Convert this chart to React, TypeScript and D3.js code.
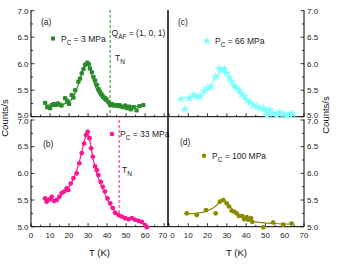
import React from 'react';
import * as d3 from 'd3';

// panel (a) Pc = 3 MPa
const tA = [7.4, 8.5, 10, 11, 12, 13, 14, 15, 16, 17.9, 19, 20, 21.4, 22.3, 23.2, 24.9, 25.8, 26.7, 27.6, 28.4, 29.6, 30.4, 31, 32, 32.8, 33.7, 34.6, 35.5, 36.3, 37.2, 38, 39, 39.8, 40.7, 41.6, 42.5, 43.5, 44.5, 45.5, 46.5, 47.5, 48.5, 49.5, 50.5, 51.5, 52.5, 54, 55.5, 57, 59];
const vA = [5.26, 5.18, 5.16, 5.22, 5.24, 5.22, 5.25, 5.23, 5.21, 5.35, 5.3, 5.24, 5.41, 5.36, 5.5, 5.66, 5.72, 5.82, 5.9, 5.98, 6.02, 5.99, 5.91, 5.84, 5.75, 5.68, 5.6, 5.52, 5.47, 5.42, 5.38, 5.35, 5.32, 5.27, 5.22, 5.24, 5.21, 5.22, 5.2, 5.22, 5.19, 5.18, 5.21, 5.16, 5.19, 5.14, 5.18, 5.12, 5.2, 5.22];
const fitTA = [8, 14, 19, 22, 25, 27, 29, 31, 33, 35, 37, 40, 45, 52, 58];
const fitVA = [5.22, 5.22, 5.26, 5.36, 5.62, 5.85, 6.0, 5.9, 5.66, 5.47, 5.36, 5.27, 5.22, 5.2, 5.19];

// panel (b) Pc = 33 MPa
const tB = [7.4, 8.2, 9.6, 10.9, 12.1, 13.5, 14.9, 16.1, 17.5, 18.8, 19.6, 20.9, 22.3, 24, 25.4, 26.7, 27.9, 28.9, 29.8, 30.7, 31.6, 32.5, 33.7, 34.6, 35.4, 36.7, 37.7, 38.9, 40.2, 41.6, 43, 44.2, 46, 47.7, 49.5, 51.2, 53, 54.7, 56.5, 58.3, 60, 60.9];
const vB = [5.53, 5.47, 5.51, 5.56, 5.48, 5.5, 5.56, 5.63, 5.66, 5.72, 5.69, 5.81, 5.91, 6.0, 6.19, 6.38, 6.56, 6.72, 6.78, 6.66, 6.47, 6.31, 6.13, 6.06, 5.97, 5.84, 5.75, 5.66, 5.53, 5.44, 5.35, 5.26, 5.22, 5.19, 5.16, 5.14, 5.16, 5.13, 5.11, 5.09, 5.03, 4.99];
const fitTB = [7, 12, 16, 20, 23, 26, 28, 29.5, 31, 32.5, 34, 36, 38, 40, 42, 44, 47, 52, 58, 61];
const fitVB = [5.52, 5.5, 5.6, 5.75, 5.95, 6.3, 6.6, 6.76, 6.6, 6.3, 6.07, 5.85, 5.68, 5.52, 5.39, 5.29, 5.2, 5.15, 5.08, 5.0];

// panel (c) Pc = 66 MPa
const tC = [6.2, 8.3, 10.4, 12.6, 14.4, 16.1, 18.3, 20, 21.8, 24.2, 26.1, 27.3, 28.7, 29.9, 31.2, 32.5, 33.8, 35.1, 36.3, 37.7, 39, 40.3, 42, 43.7, 45.4, 47.2, 48.9, 50.6, 50.8, 52.3, 54, 55.8, 57.5, 59.2, 61, 62.7, 64.1];
const vC = [5.33, 5.14, 5.35, 5.41, 5.38, 5.38, 5.48, 5.54, 5.57, 5.75, 5.91, 5.88, 5.9, 5.82, 5.74, 5.66, 5.58, 5.54, 5.5, 5.42, 5.38, 5.31, 5.27, 5.22, 5.19, 5.16, 5.16, 5.09, 5.03, 5.13, 5.06, 5.03, 5.08, 5.05, 5.02, 5.05, 5.06];
const fitTC = [6, 10, 16, 20, 24, 27, 28.5, 30, 33, 36, 40, 44, 50, 56, 64];
const fitVC = [5.35, 5.37, 5.42, 5.53, 5.72, 5.88, 5.9, 5.82, 5.62, 5.47, 5.33, 5.22, 5.12, 5.06, 5.04];

// panel (d) Pc = 100 MPa
const tD = [9.2, 14.4, 19.2, 24.2, 26.4, 28.1, 29.9, 31.1, 32.5, 33.8, 35.1, 36.3, 38, 39, 40.3, 41.1, 42.5, 43.2, 48.9, 54, 59.2, 63.6];
const vD = [5.25, 5.22, 5.31, 5.25, 5.47, 5.5, 5.44, 5.38, 5.3, 5.28, 5.25, 5.2, 5.2, 5.14, 5.18, 5.13, 5.16, 5.09, 4.99, 5.08, 5.04, 5.06];
const fitTD = [9, 14, 20, 24, 27, 28.5, 31, 35, 40, 45, 55, 64];
const fitVD = [5.24, 5.25, 5.3, 5.38, 5.48, 5.5, 5.4, 5.25, 5.14, 5.09, 5.06, 5.05];

const tnA = 41.6;
const tnB = 46.3;
const xTicks = [0, 10, 20, 30, 40, 50, 60, 70];
const yTicks = [5.0, 5.5, 6.0, 6.5, 7.0];

const FONT = 'Arial, "Liberation Sans", sans-serif';

type Panel = {
  id: string; t: number[]; v: number[]; ft: number[]; fv: number[];
  color: string; light: string; shape: string; pc: string;
  x0: number; x1: number; xMax: number; y0: number; y1: number;
  side: 'left' | 'right'; top: boolean; showX: boolean;
  labelX: number; labelY: number; legX: number; legY: number;
  tn?: number; tnTop?: number; tnBottom?: number; tnLabelX?: number; tnLabelY?: number;
};

const panels: Panel[] = [
  { id: '(a)', t: tA, v: vA, ft: fitTA, fv: fitVA, color: '#2b8a2b', light: '#a8d8a8', shape: 'square', pc: '3 MPa',
    x0: 31, x1: 168, xMax: 72, y0: 116.7, y1: 10.7, side: 'left', top: true, showX: false,
    labelX: 41, labelY: 25, legX: 53, legY: 38.5, tn: tnA, tnTop: 10, tnBottom: 117, tnLabelX: 115, tnLabelY: 61 },
  { id: '(b)', t: tB, v: vB, ft: fitTB, fv: fitVB, color: '#ff1493', light: '#ffa6d2', shape: 'circle', pc: '33 MPa',
    x0: 31, x1: 168, xMax: 72, y0: 226.7, y1: 120, side: 'left', top: false, showX: true,
    labelX: 43, labelY: 147, legX: 112, legY: 134, tn: tnB, tnTop: 120, tnBottom: 220, tnLabelX: 122, tnLabelY: 173 },
  { id: '(c)', t: tC, v: vC, ft: fitTC, fv: fitVC, color: '#80ffff', light: '#cfffff', shape: 'star', pc: '66 MPa',
    x0: 169, x1: 304, xMax: 70, y0: 116.7, y1: 10.7, side: 'right', top: true, showX: false,
    labelX: 178, labelY: 25, legX: 207, legY: 41 },
  { id: '(d)', t: tD, v: vD, ft: fitTD, fv: fitVD, color: '#8b8b00', light: '#d4d484', shape: 'circle', pc: '100 MPa',
    x0: 169, x1: 304, xMax: 70, y0: 226.7, y1: 120, side: 'right', top: false, showX: true,
    labelX: 180, labelY: 145, legX: 204, legY: 155.7 },
];

function Marker({ shape, cx, cy, fill }: { shape: string; cx: number; cy: number; fill: string }) {
  if (shape === 'square') return <rect x={cx - 2} y={cy - 2} width={4} height={4} fill={fill} />;
  if (shape === 'circle') return <circle cx={cx} cy={cy} r={2.3} fill={fill} />;
  const star = d3.symbol().type(d3.symbolStar).size(26)();
  return <path d={star || ''} transform={`translate(${cx},${cy})`} fill={fill} />;
}

function PanelView({ p }: { p: Panel }) {
  const x = d3.scaleLinear().domain([0, p.xMax]).range([p.x0, p.x1]);
  const y = d3.scaleLinear().domain([5, 7]).range([p.y0, p.y1]);
  const line = d3.line<number>().x((_, i) => x(p.ft[i])).y((d) => y(d)).curve(d3.curveMonotoneX);
  const axisX = p.side === 'left' ? p.x0 : p.x1;
  const dir = p.side === 'left' ? 1 : -1;
  const minorY = d3.range(5, 7.01, 0.25);
  const minorX = d3.range(0, 70.1, 5);
  // nudge labels where the stacked panels meet
  const yNudge = (d: number) => (p.top && d === 5 ? -1.5 : !p.top && d === 7 ? 1.5 : 0);
  const xNudge = (d: number) => (p.side === 'left' && d === 70 ? -1.5 : p.side === 'right' && d === 0 ? 3.5 : 0);
  return (
    <g>
      {/* axes */}
      <line x1={axisX} x2={axisX} y1={p.y1 - 0.5} y2={p.y0} stroke="#000" strokeWidth={1} />
      <line x1={p.x0} x2={p.x1} y1={p.y0} y2={p.y0} stroke="#000" strokeWidth={1} />
      {minorY.map((d) => {
        const major = Math.abs(d * 2 - Math.round(d * 2)) < 1e-6;
        return <line key={'y' + d} x1={axisX} x2={axisX + dir * (major ? 3.5 : 2)} y1={y(d)} y2={y(d)} stroke="#000" strokeWidth={0.8} />;
      })}
      {minorX.map((d) => (
        <line key={'x' + d} x1={x(d)} x2={x(d)} y1={p.y0} y2={p.y0 - (d % 10 === 0 ? 3.5 : 2)} stroke="#000" strokeWidth={0.8} />
      ))}
      {yTicks.map((d) => (
        <text key={'yl' + d} x={p.side === 'left' ? axisX - 2.5 : axisX + 3} y={y(d) + 2.8 + yNudge(d)} fontSize={8} fontFamily={FONT}
          textAnchor={p.side === 'left' ? 'end' : 'start'} fill="#222">{d.toFixed(1)}</text>
      ))}
      {p.showX && xTicks.map((d) => (
        <text key={'xl' + d} x={x(d) + xNudge(d)} y={p.y0 + 11} fontSize={8} fontFamily={FONT} textAnchor="middle" fill="#222">{d}</text>
      ))}
      {p.showX && (
        <text x={(p.x0 + p.x1) / 2} y={p.y0 + 29} fontSize={9.5} fontFamily={FONT} textAnchor="middle" fill="#111">T (K)</text>
      )}
      {/* T_N marker */}
      {p.tn !== undefined && (
        <g>
          <line x1={x(p.tn)} x2={x(p.tn)} y1={p.tnTop} y2={p.tnBottom} stroke={p.color} strokeWidth={1} strokeDasharray="3,2" />
          <text x={p.tnLabelX} y={p.tnLabelY} fontSize={8.5} fontFamily={FONT} fill="#222">T<tspan dy={3} fontSize={6.5}>N</tspan></text>
        </g>
      )}
      {/* error bars */}
      {p.t.map((t, i) => (
        <g key={'e' + i}>
          <line x1={x(t)} x2={x(t)} y1={y(p.v[i] - 0.04)} y2={y(p.v[i] + 0.04)} stroke={p.light} strokeWidth={2} />
          <line x1={x(t) - 2.5} x2={x(t) + 2.5} y1={y(p.v[i])} y2={y(p.v[i])} stroke={p.light} strokeWidth={2} />
        </g>
      ))}
      <path d={line(p.fv) || ''} fill="none" stroke={p.color} strokeWidth={1.2} />
      {p.t.map((t, i) => (
        <Marker key={'m' + i} shape={p.shape} cx={x(t)} cy={y(p.v[i])} fill={p.color} />
      ))}
      {/* labels */}
      <text x={p.labelX} y={p.labelY} fontSize={8.5} fontFamily={FONT} fill="#222">{p.id}</text>
      <Marker shape={p.shape} cx={p.legX} cy={p.legY} fill={p.color} />
      <text x={p.legX + 8} y={p.legY + 3} fontSize={8.5} fontFamily={FONT} fill="#222">
        P<tspan dy={3} fontSize={6.5}>C</tspan><tspan dy={-3}> = {p.pc}</tspan>
      </text>
    </g>
  );
}

export default function App() {
  return (
    <svg width={337} height={266} style={{ position: 'absolute', left: 0, top: 0, background: '#fff' }}>
      <rect width={337} height={266} fill="#fff" />
      {panels.map((p) => <PanelView key={p.id} p={p} />)}
      {/* divider between left and right columns */}
      <line x1={168} x2={168} y1={10} y2={227} stroke="#000" strokeWidth={1.5} />
      <text x={111.5} y={36} fontSize={8.5} fontFamily={FONT} fill="#222">
        Q<tspan dy={3} fontSize={6.5}>AF</tspan><tspan dy={-3}> = (1, 0, 1)</tspan>
      </text>
      <text transform="translate(8,118) rotate(-90)" fontSize={9.5} fontFamily={FONT} textAnchor="middle" fill="#111">Counts/s</text>
      <text transform="translate(329,115) rotate(-90)" fontSize={9.5} fontFamily={FONT} textAnchor="middle" fill="#111">Counts/s</text>
    </svg>
  );
}
